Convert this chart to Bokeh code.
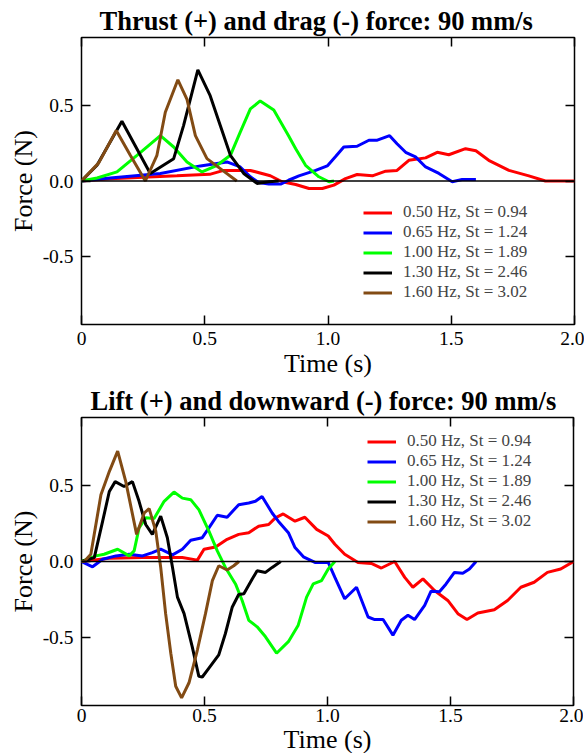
from bokeh.plotting import figure
from bokeh.models import (Range1d, LinearAxis, FixedTicker, PrintfTickFormatter,
                          Span, Legend, LegendItem)
from bokeh.layouts import column
from bokeh.embed import file_html
from bokeh.resources import INLINE

FONT = "Liberation Serif"

labels = ["0.50 Hz, St = 0.94", "0.65 Hz, St = 1.24", "1.00 Hz, St = 1.89",
          "1.30 Hz, St = 2.46", "1.60 Hz, St = 3.02"]
colors = ["#ff0000", "#0000ff", "#00ff00", "#000000", "#824b14"]
x_ticks = [0, 0.5, 1.0, 1.5, 2.0]
y_ticks = [-0.5, 0.0, 0.5]

# ---- Thrust (+) and drag (-) force ----
thrust_t_050 = [0, 0.117, 0.25, 0.387, 0.52, 0.577, 0.685, 0.766, 0.814, 0.869, 0.923, 0.977,
                1.024, 1.071, 1.118, 1.18, 1.234, 1.28, 1.328, 1.396, 1.443, 1.49, 1.558, 1.6,
                1.652, 1.734, 1.815, 1.882, 2.0]
thrust_f_050 = [0, 0.015, 0.025, 0.034, 0.044, 0.07, 0.07, 0.035, -0.005, -0.023, -0.05, -0.05,
                -0.027, 0.016, 0.043, 0.034, 0.065, 0.07, 0.137, 0.153, 0.19, 0.174, 0.214, 0.2,
                0.137, 0.07, 0.034, 0.0, 0.0]
thrust_t_065 = [0, 0.117, 0.32, 0.482, 0.59, 0.644, 0.685, 0.718, 0.76, 0.81, 0.84, 0.882, 0.95,
                0.997, 1.03, 1.064, 1.118, 1.166, 1.2, 1.25, 1.28, 1.315, 1.355, 1.396, 1.45,
                1.504, 1.544, 1.6]
thrust_f_065 = [0, 0.02, 0.05, 0.1, 0.126, 0.093, 0.028, -0.01, -0.02, -0.02, 0.005, 0.034, 0.07,
                0.1, 0.16, 0.225, 0.23, 0.27, 0.27, 0.30, 0.247, 0.19, 0.16, 0.093, 0.05,
                -0.005, 0.01, 0.01]
thrust_t_100 = [0, 0.063, 0.144, 0.225, 0.32, 0.374, 0.428, 0.489, 0.55, 0.604, 0.644, 0.685,
                0.725, 0.78, 0.84, 0.869, 0.909, 0.963, 1.004, 1.024]
thrust_f_100 = [0, 0.02, 0.06, 0.17, 0.30, 0.225, 0.126, 0.06, 0.104, 0.17, 0.324, 0.477,
                0.53, 0.47, 0.30, 0.214, 0.104, 0.028, -0.005, 0.0]
thrust_t_130 = [0, 0.063, 0.164, 0.279, 0.374, 0.414, 0.472, 0.522, 0.563, 0.604, 0.658, 0.712,
                0.76, 0.8]
thrust_f_130 = [0, 0.104, 0.396, 0.05, 0.148, 0.367, 0.736, 0.565, 0.367, 0.17, 0.05, -0.016,
                -0.005, 0.0]
thrust_t_160 = [0, 0.07, 0.141, 0.198, 0.259, 0.306, 0.34, 0.391, 0.428, 0.462, 0.509, 0.563, 0.63]
thrust_f_160 = [0, 0.12, 0.334, 0.17, 0.0, 0.17, 0.455, 0.67, 0.54, 0.30, 0.148, 0.082, 0.0]

# ---- Lift (+) and downward (-) force ----
lift_t_050 = [0, 0.113, 0.248, 0.41, 0.471, 0.498, 0.545, 0.592, 0.639, 0.68, 0.72, 0.761, 0.788,
              0.82, 0.868, 0.908, 0.956, 1.003, 1.03, 1.07, 1.124, 1.178, 1.219, 1.273, 1.314,
              1.347, 1.388, 1.435, 1.489, 1.53, 1.567, 1.611, 1.678, 1.732, 1.786, 1.84, 1.894,
              1.948, 2.0]
lift_f_050 = [0, 0.022, 0.026, 0.026, 0.009, 0.081, 0.096, 0.146, 0.179, 0.19, 0.233, 0.244, 0.288,
              0.314, 0.266, 0.292, 0.212, 0.168, 0.114, 0.048, -0.006, -0.013, -0.043, 0.0, -0.105,
              -0.17, -0.115, -0.191, -0.257, -0.344, -0.383, -0.34, -0.318, -0.257, -0.17, -0.137,
              -0.072, -0.05, 0.0]
lift_t_065 = [0, 0.045, 0.086, 0.14, 0.194, 0.248, 0.288, 0.322, 0.37, 0.41, 0.444, 0.491, 0.518,
              0.552, 0.592, 0.639, 0.68, 0.707, 0.734, 0.775, 0.8, 0.841, 0.868, 0.902, 0.949,
              1.003, 1.03, 1.07, 1.118, 1.165, 1.192, 1.226, 1.266, 1.3, 1.327, 1.354, 1.395,
              1.421, 1.455, 1.482, 1.516, 1.55, 1.577, 1.604]
lift_f_065 = [0, -0.035, 0.015, 0.037, 0.048, 0.037, 0.059, 0.081, 0.044, 0.081, 0.14, 0.157, 0.222,
              0.305, 0.292, 0.375, 0.386, 0.397, 0.429, 0.32, 0.266, 0.19, 0.092, 0.031, -0.006,
              -0.006, -0.105, -0.246, -0.17, -0.366, -0.383, -0.383, -0.486, -0.388, -0.355,
              -0.383, -0.29, -0.196, -0.2, -0.148, -0.072, -0.078, -0.05, 0.0]
lift_t_100 = [0, 0.059, 0.092, 0.147, 0.194, 0.214, 0.234, 0.261, 0.295, 0.336, 0.376, 0.41, 0.444,
              0.477, 0.518, 0.552, 0.585, 0.626, 0.653, 0.68, 0.714, 0.748, 0.793, 0.841, 0.881,
              0.915, 0.942, 0.976, 1.003, 1.03]
lift_f_100 = [0, 0.037, 0.048, 0.081, 0.037, 0.07, 0.222, 0.288, 0.284, 0.397, 0.458, 0.418, 0.408,
              0.342, 0.2, 0.07, -0.039, -0.148, -0.257, -0.388, -0.431, -0.497, -0.605, -0.529,
              -0.42, -0.235, -0.148, -0.126, -0.05, 0.0]
lift_t_130 = [0, 0.052, 0.086, 0.113, 0.137, 0.173, 0.207, 0.234, 0.261, 0.288, 0.322, 0.349, 0.37,
              0.39, 0.417, 0.45, 0.477, 0.491, 0.518, 0.558, 0.585, 0.613, 0.639, 0.66, 0.694,
              0.714, 0.748, 0.775, 0.81]
lift_f_130 = [0, 0.026, 0.266, 0.462, 0.527, 0.495, 0.527, 0.397, 0.244, 0.179, 0.299, 0.157,
              -0.039, -0.235, -0.344, -0.562, -0.758, -0.762, -0.703, -0.616, -0.475, -0.30,
              -0.218, -0.213, -0.115, -0.061, -0.072, -0.039, 0.0]
lift_t_160 = [0, 0.011, 0.038, 0.079, 0.113, 0.147, 0.18, 0.224, 0.255, 0.275, 0.302, 0.322, 0.342,
              0.363, 0.383, 0.407, 0.437, 0.471, 0.504, 0.532, 0.558, 0.592, 0.619, 0.64]
lift_f_160 = [0, 0, 0.048, 0.44, 0.593, 0.728, 0.527, 0.179, 0.32, 0.349, 0.2, -0.039, -0.344,
              -0.605, -0.823, -0.9, -0.80, -0.584, -0.344, -0.126, -0.028, -0.056, -0.028, 0.0]

thrust_series = [(thrust_t_050, thrust_f_050), (thrust_t_065, thrust_f_065),
                 (thrust_t_100, thrust_f_100), (thrust_t_130, thrust_f_130),
                 (thrust_t_160, thrust_f_160)]
lift_series = [(lift_t_050, lift_f_050), (lift_t_065, lift_f_065),
               (lift_t_100, lift_f_100), (lift_t_130, lift_f_130),
               (lift_t_160, lift_f_160)]


def make(title, series, fw, fh, bl, br, bt, bb, xls, xas, yas, toff, legend_loc):
    p = figure(frame_width=fw, frame_height=fh,
               x_range=Range1d(0, 2), y_range=Range1d(-0.95, 0.95),
               output_backend="svg", toolbar_location=None,
               min_border_left=bl, min_border_right=br, min_border_top=bt, min_border_bottom=bb,
               x_axis_label="Time (s)", y_axis_label="Force (N)")
    p.title.text = title
    p.title.text_font = FONT
    p.title.text_font_size = "26.5px"
    p.title.text_font_style = "bold"
    p.title.text_color = "black"
    p.title.align = "left"
    p.title.offset = toff
    p.title.standoff = 3
    p.xgrid.visible = False
    p.ygrid.visible = False
    p.outline_line_color = "black"
    p.outline_line_width = 1.5
    p.outline_line_alpha = 1

    p.xaxis.ticker = FixedTicker(ticks=x_ticks)
    p.yaxis.ticker = FixedTicker(ticks=y_ticks)
    p.xaxis.formatter = PrintfTickFormatter(format="%.1f")
    p.xaxis.major_label_overrides = {0: "0"}
    p.yaxis.formatter = PrintfTickFormatter(format="%.1f")
    for ax in (p.xaxis[0], p.yaxis[0]):
        ax.major_tick_in = 9
        ax.major_tick_out = 0
        ax.minor_tick_line_color = None
        ax.axis_line_color = None
        ax.major_tick_line_color = "black"
        ax.major_tick_line_width = 1.5
        ax.major_label_text_font = FONT
        ax.major_label_text_font_size = "19.5px"
        ax.major_label_text_color = "black"
        ax.axis_label_text_font = FONT
        ax.axis_label_text_font_size = "26px"
        ax.axis_label_text_font_style = "normal"
        ax.axis_label_text_color = "black"
    p.xaxis.major_label_standoff = xls
    p.xaxis.axis_label_standoff = xas
    p.yaxis.major_label_standoff = 8
    p.yaxis.axis_label_standoff = yas

    top = LinearAxis(ticker=FixedTicker(ticks=x_ticks), major_tick_in=9, major_tick_out=0,
                     minor_tick_line_color=None, axis_line_color=None,
                     major_tick_line_width=1.5, major_label_standoff=0, axis_label_standoff=0,
                     major_label_text_font_size="1px",
                     major_label_overrides={t: "" for t in x_ticks})
    right = LinearAxis(ticker=FixedTicker(ticks=y_ticks), major_tick_in=9, major_tick_out=0,
                       minor_tick_line_color=None, axis_line_color=None,
                       major_tick_line_width=1.5, major_label_standoff=0, axis_label_standoff=0,
                       major_label_text_font_size="1px",
                       major_label_overrides={t: "" for t in y_ticks})
    p.add_layout(top, "above")
    p.add_layout(right, "right")

    p.add_layout(Span(location=0, dimension="width", line_color="black", line_width=1.5))

    items = []
    for (t, f), c, lab in zip(series, colors, labels):
        r = p.line(t, f, line_color=c, line_width=3)
        items.append(LegendItem(label=lab, renderers=[r]))
    leg = Legend(items=items, location=legend_loc, padding=0, margin=0, spacing=0,
                 glyph_width=29, glyph_height=17, label_height=17, label_standoff=11,
                 label_text_font=FONT, label_text_font_size="17px",
                 background_fill_alpha=0, border_line_alpha=0)
    p.add_layout(leg)
    return p


p1 = make("Thrust (+) and drag (-) force: 90 mm/s", thrust_series,
          493, 287, 81, 10, 37, 57, 7, 1, 2, 18, (282, 22))
p2 = make("Lift (+) and downward (-) force: 90 mm/s", lift_series,
          492, 288, 74, 15, 36, 46, 3, 0, 2, 9, (286, 174))

layout = column(p1, p2, spacing=0)
open("out.html", "w").write(file_html(layout, INLINE))
